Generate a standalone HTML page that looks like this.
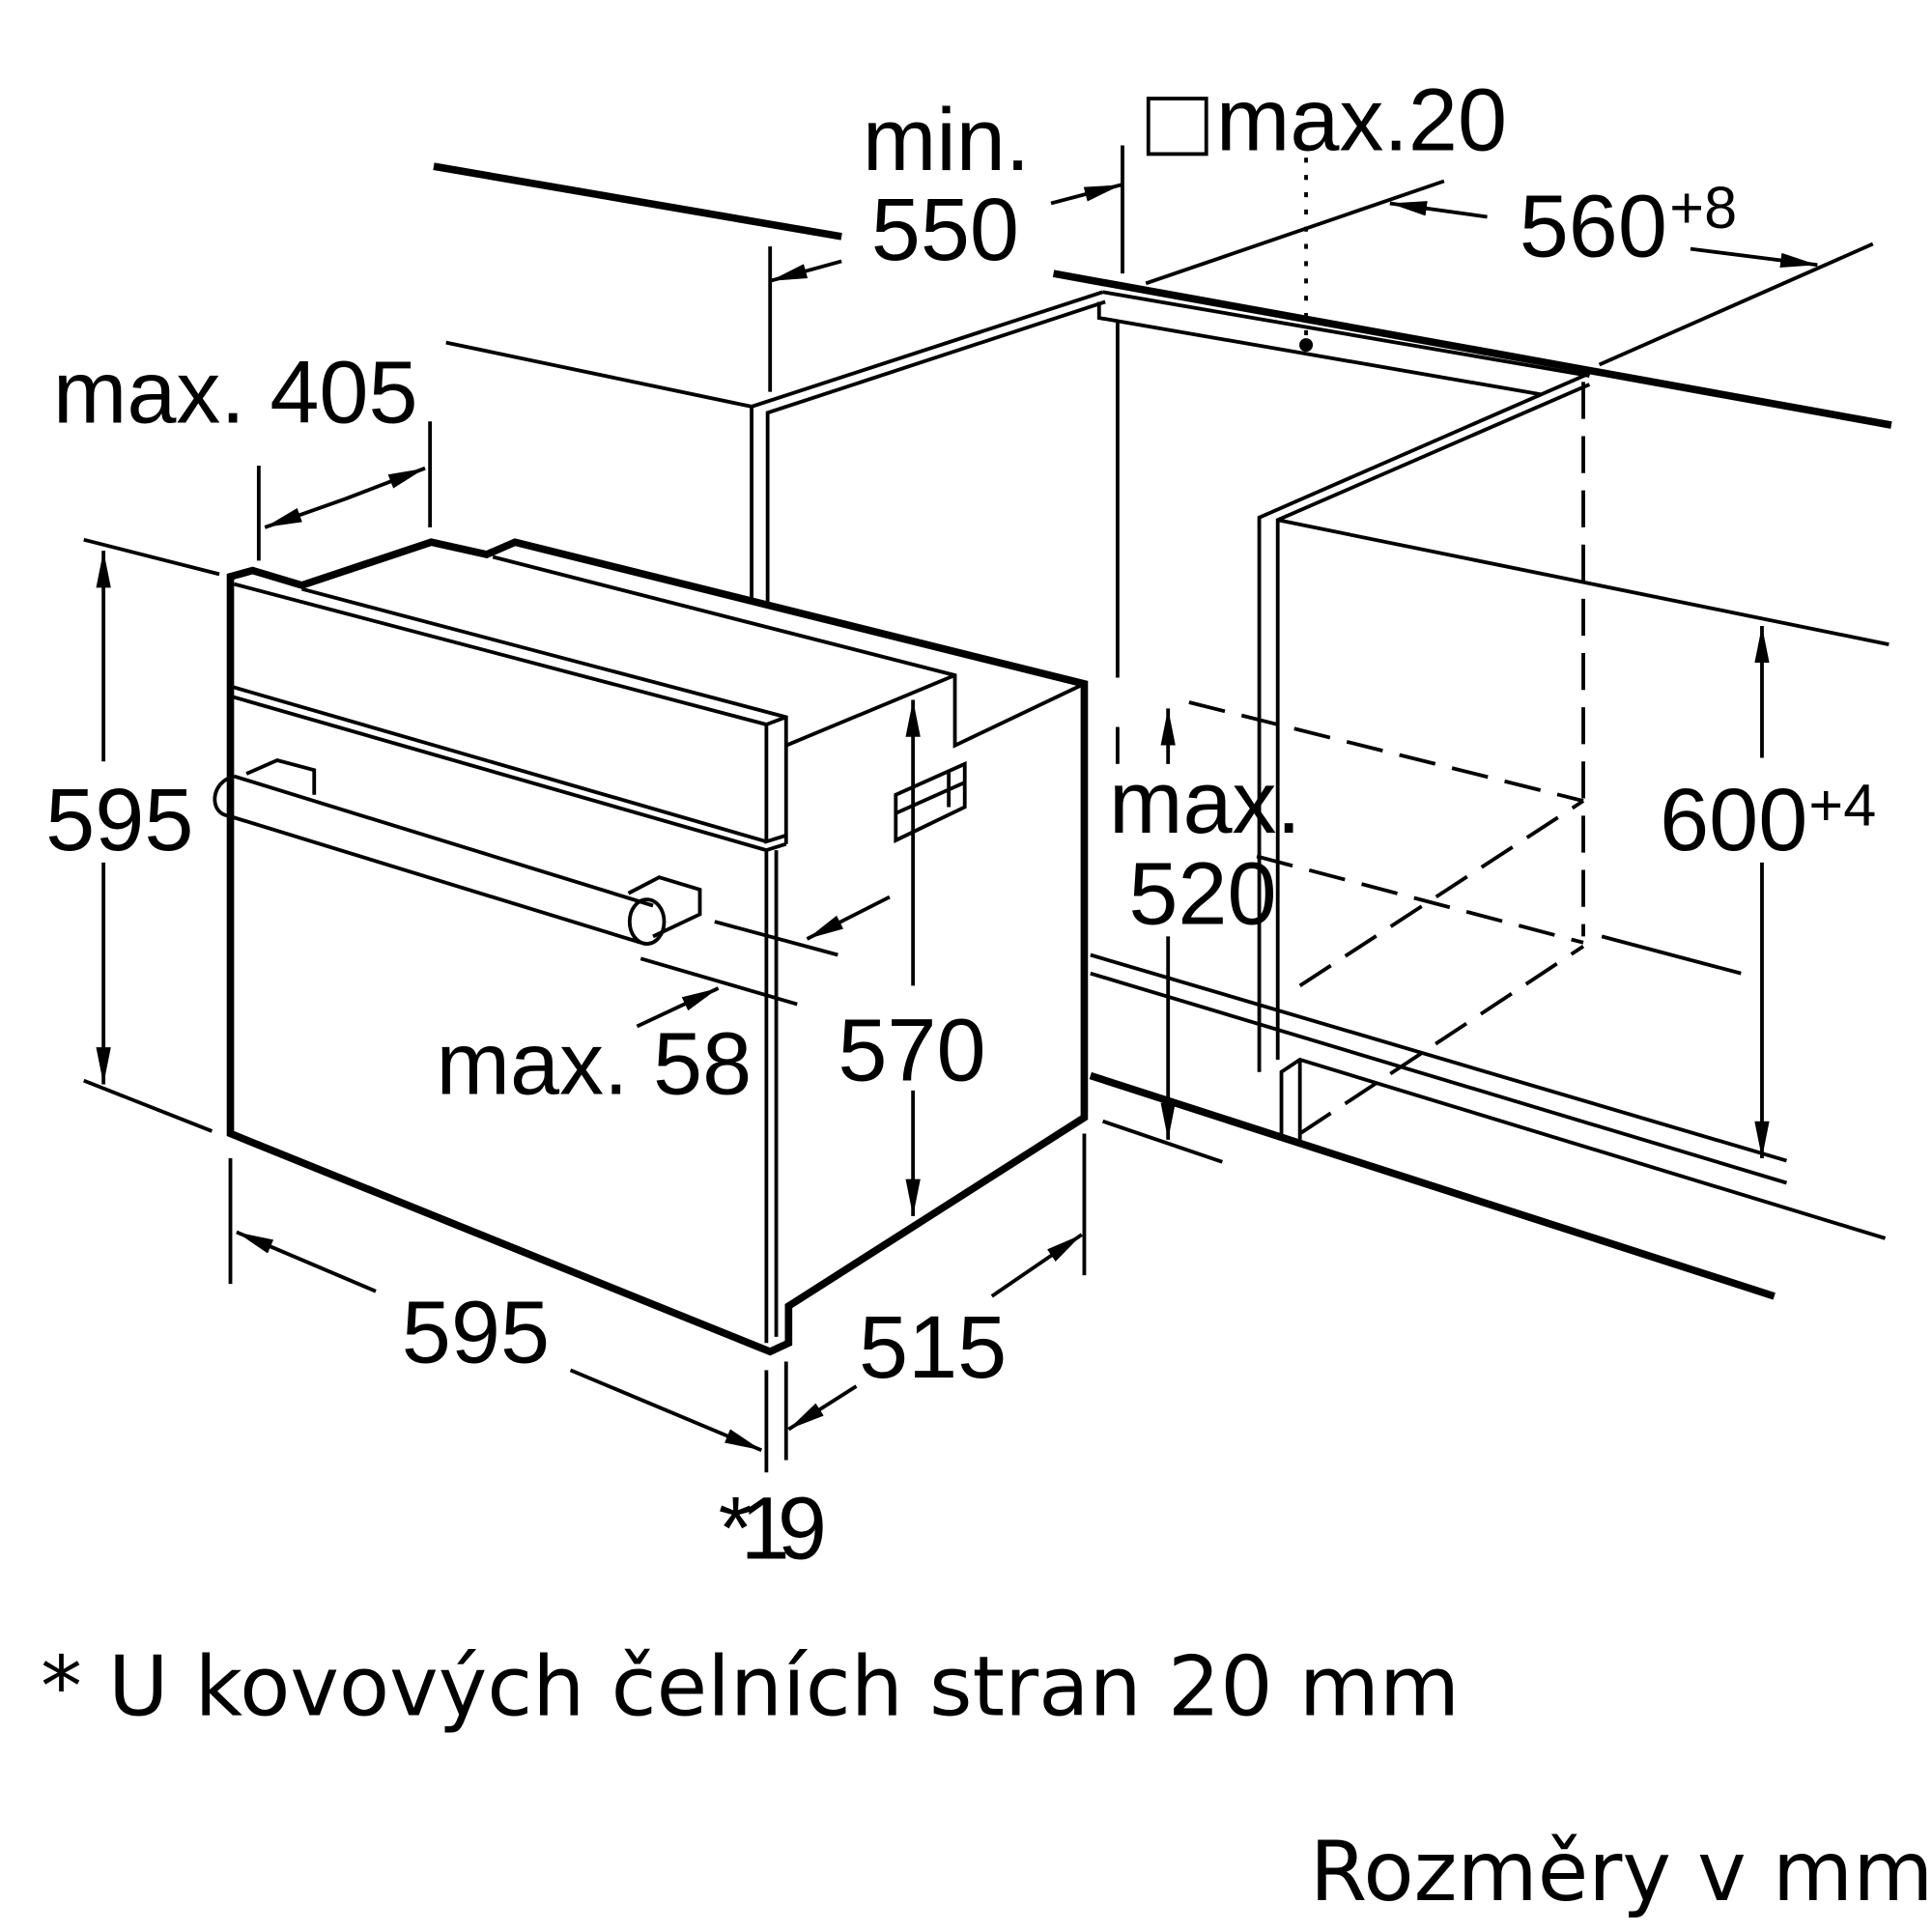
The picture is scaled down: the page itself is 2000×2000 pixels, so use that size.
<!DOCTYPE html>
<html><head><meta charset="utf-8"><style>
html,body{margin:0;padding:0;background:#fff}
svg{display:block}
text{font-family:"Liberation Sans",sans-serif;fill:#000}
.dv{font-family:"DejaVu Sans",sans-serif}
</style></head><body>
<svg width="2000" height="2000" viewBox="0 0 1568 1568" xmlns="http://www.w3.org/2000/svg">
<defs>
<marker id="b" viewBox="0 0 30 12" markerWidth="30" markerHeight="12" refX="30" refY="6" orient="auto" markerUnits="userSpaceOnUse"><path d="M0,0 L30,6 L0,12z"/></marker></defs>
<g stroke="#000" fill="none" stroke-width="3">
<line x1="352" y1="135" x2="683" y2="192" stroke-width="6"/>
<line x1="855" y1="222" x2="1535" y2="345" stroke-width="6"/>
<line x1="362" y1="278" x2="610" y2="330"/>
<path d="M610,490 V330 L895,237 M623,490 V335 L897,245"/>
<line x1="930" y1="230" x2="1172" y2="147"/>
<line x1="1298" y1="296" x2="1520" y2="198"/>
<path d="M1022,870 V420 L1290,303 M1037,860 V422 L1290,312"/>
<line x1="1037" y1="422" x2="1533" y2="523"/>
<path d="M892,245 V258 L1250,320 M895,237 L1290,305"/>
<line x1="907" y1="262" x2="907" y2="550"/>
<line x1="1285" y1="310" x2="1285" y2="760" stroke-dasharray="30,14"/>
<line x1="1060" y1="128" x2="1060" y2="280" stroke-dasharray="4,10"/>
<circle cx="1060" cy="280" r="4" fill="#000"/>
<line x1="885" y1="873" x2="1440" y2="1052" stroke-width="6"/>
<line x1="885" y1="775" x2="1450" y2="942"/>
<line x1="885" y1="790" x2="1450" y2="960"/>
<path d="M1040,925 V870 L1055,860 L1530,1005"/>
<line x1="1055" y1="860" x2="1055" y2="925"/>
<g stroke-dasharray="30,14">
<line x1="965" y1="570" x2="1285" y2="650"/>
<line x1="1020" y1="695" x2="1285" y2="765"/>
<line x1="1055" y1="800" x2="1285" y2="650"/>
<line x1="1055" y1="920" x2="1285" y2="768"/>
<line x1="907" y1="590" x2="907" y2="620"/>
</g>
<line x1="1300" y1="760" x2="1413" y2="790"/>
<path d="M187,920 V468 L205,463 L245,475 L350,440 L395,450 L418,440 L880,555 V907 L640,1060 V1090 L625,1097 Z" stroke-width="6"/>
<path d="M245,478 L638,582 V685 M190,474 L622,588 V683 L638,678 M622,588 L638,582"/>
<path d="M187,557 L622,683 M187,565 L622,690 M622,690 L638,685 M622,690 V1090 M630,690 V1085"/>
<path d="M400,452 L775,548 V605 L880,555 M638,605 L775,548"/>
<path d="M727,645 L783,620 V655 L727,682 Z M727,660 L783,635 M770,626 V655"/>
<path d="M190,630 L530,735 M185,662 L520,765 M190,630 C170,635 170,660 185,662"/>
<path d="M200,628 L225,617 L255,625 V645 M510,725 L535,712 L568,722 V742 L530,760"/>
<ellipse cx="525" cy="748" rx="14" ry="18"/>
<line x1="625" y1="318" x2="625" y2="200"/>
<line x1="683" y1="212" x2="625" y2="228" marker-end="url(#b)"/>
<line x1="853" y1="165" x2="910" y2="150" marker-end="url(#b)"/>
<line x1="911" y1="118" x2="911" y2="222"/>
<line x1="1207" y1="176" x2="1128" y2="165" marker-end="url(#b)"/>
<line x1="1372" y1="202" x2="1475" y2="215" marker-end="url(#b)"/>
<line x1="210" y1="378" x2="210" y2="455"/>
<line x1="349" y1="342" x2="349" y2="428"/>
<line x1="280" y1="405" x2="215" y2="428" marker-end="url(#b)"/>
<line x1="280" y1="405" x2="345" y2="380" marker-end="url(#b)"/>
<line x1="68" y1="438" x2="178" y2="466"/>
<line x1="68" y1="877" x2="172" y2="918"/>
<line x1="84" y1="618" x2="84" y2="447" marker-end="url(#b)"/>
<line x1="84" y1="700" x2="84" y2="880" marker-end="url(#b)"/>
<line x1="741" y1="800" x2="741" y2="568" marker-end="url(#b)"/>
<line x1="741" y1="885" x2="741" y2="987" marker-end="url(#b)"/>
<line x1="580" y1="748" x2="680" y2="775"/>
<line x1="520" y1="778" x2="647" y2="815"/>
<line x1="722" y1="728" x2="655" y2="762" marker-end="url(#b)"/>
<line x1="517" y1="833" x2="583" y2="802" marker-end="url(#b)"/>
<line x1="948" y1="620" x2="948" y2="575" marker-end="url(#b)"/>
<line x1="948" y1="760" x2="948" y2="925" marker-end="url(#b)"/>
<line x1="895" y1="910" x2="992" y2="943"/>
<line x1="1430" y1="615" x2="1430" y2="508" marker-end="url(#b)"/>
<line x1="1430" y1="700" x2="1430" y2="940" marker-end="url(#b)"/>
<line x1="187" y1="940" x2="187" y2="1042"/>
<line x1="880" y1="920" x2="880" y2="1035"/>
<line x1="622" y1="1112" x2="622" y2="1195"/>
<line x1="638" y1="1105" x2="638" y2="1185"/>
<line x1="305" y1="1048" x2="192" y2="1000" marker-end="url(#b)"/>
<line x1="463" y1="1112" x2="618" y2="1177" marker-end="url(#b)"/>
<line x1="805" y1="1052" x2="878" y2="1002" marker-end="url(#b)"/>
<line x1="695" y1="1125" x2="640" y2="1160" marker-end="url(#b)"/>
<rect x="932" y="80" width="47" height="45"/>
</g>
<g font-size="72">
<text x="700" y="138">min.</text>
<text x="707" y="211">550</text>
<text x="987" y="122">max.20</text>
<text x="1233" y="208">560</text><text x="1355" y="185" font-size="48">+8</text>
<text x="43" y="343">max. 405</text>
<text x="37" y="690">595</text>
<text x="900" y="676">max.</text>
<text x="916" y="750">520</text>
<text x="1347" y="690">600</text><text x="1468" y="670" font-size="48">+4</text>
<text x="680" y="877">570</text>
<text x="354" y="888">max. 58</text>
<text x="326" y="1106">595</text>
<text x="697" y="1118">515</text>
<text x="583" y="1265" letter-spacing="-10">*19</text>
<text class="dv" x="33" y="1392" font-size="67">* U kovových čelních stran 20 mm</text>
<text class="dv" x="1063" y="1542" font-size="67">Rozměry v mm</text>
</g>
</svg>
</body></html>
